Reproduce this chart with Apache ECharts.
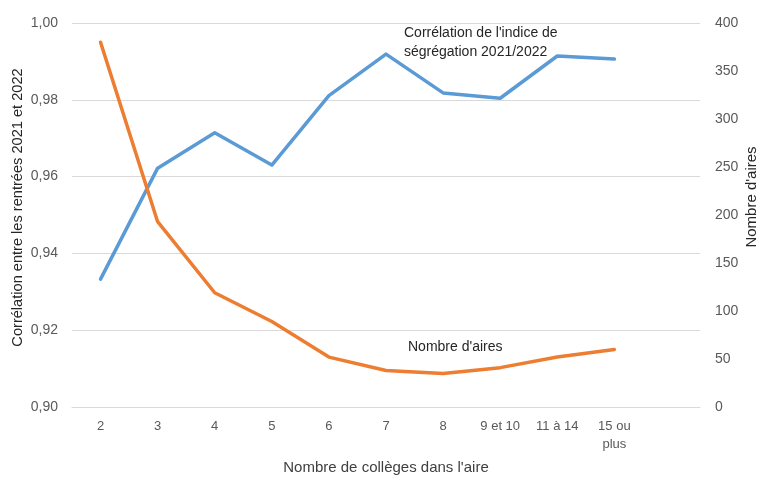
<!DOCTYPE html>
<html>
<head>
<meta charset="utf-8">
<script src="https://cdn.jsdelivr.net/npm/echarts@6/dist/echarts.min.js"></script>
<style>
  html, body { margin: 0; padding: 0; background: #ffffff; }
  #chart { width: 761px; height: 477px; }
</style>
</head>
<body>
<div id="chart"></div>
<script>
// Nombre de collèges dans l'aire (la dernière catégorie est vide)
const categories = ['2', '3', '4', '5', '6', '7', '8', '9 et 10', '11 à 14', '15 ou\nplus', ''];

// Corrélation de l'indice de ségrégation 2021/2022 (axe de gauche)
const correlation = [0.9333, 0.9622, 0.9714, 0.9630, 0.9811, 0.9919, 0.9818, 0.9804, 0.9914, 0.9906];

// Nombre d'aires (axe de droite)
const nbAires = [380, 193, 119, 89, 52, 38, 35, 41, 52, 60];

const leftTicks = { min: 0.9, max: 1.0, interval: 0.02 };
const rightTicks = { min: 0, max: 400, interval: 50 };

const FONT = '"Liberation Sans", "DejaVu Sans", sans-serif';
const TEXT = '#595959';
const DARK = '#262626';

const chart = echarts.init(document.getElementById('chart'), null, { renderer: 'canvas' });

chart.setOption({
  animation: false,
  backgroundColor: '#ffffff',
  textStyle: { fontFamily: FONT },
  grid: { left: 72, right: 61, top: 23, bottom: 70, containLabel: false, outerBoundsMode: 'none' },
  xAxis: {
    type: 'category',
    data: categories,
    boundaryGap: true,
    axisLine: { show: true, lineStyle: { color: '#D9D9D9', width: 1 } },
    axisTick: { show: false },
    axisLabel: {
      color: TEXT, fontSize: 13, fontFamily: FONT, margin: 10, lineHeight: 18, interval: 0
    },
    name: "Nombre de collèges dans l'aire",
    nameLocation: 'middle',
    nameGap: 53,
    nameTextStyle: { color: '#404040', fontSize: 15, fontFamily: FONT }
  },
  yAxis: [
    {
      type: 'value',
      position: 'left',
      min: leftTicks.min, max: leftTicks.max, interval: leftTicks.interval,
      axisLine: { show: false },
      axisTick: { show: false },
      splitLine: { show: true, lineStyle: { color: '#D9D9D9', width: 1 } },
      axisLabel: {
        color: TEXT, fontSize: 14, fontFamily: FONT, margin: 14,
        formatter: v => v.toFixed(2).replace('.', ',')
      },
      name: 'Corrélation entre les rentrées 2021 et 2022',
      nameLocation: 'middle',
      nameGap: 47,
      nameMoveOverlap: false,
      nameRotate: 90,
      nameTextStyle: { color: DARK, fontSize: 14.6, fontFamily: FONT, padding: [0, 0, 0, 15] }
    },
    {
      type: 'value',
      position: 'right',
      min: rightTicks.min, max: rightTicks.max, interval: rightTicks.interval,
      axisLine: { show: false },
      axisTick: { show: false },
      splitLine: { show: false },
      axisLabel: { color: TEXT, fontSize: 14, fontFamily: FONT, margin: 15 },
      name: "Nombre d'aires",
      nameLocation: 'middle',
      nameGap: 44,
      nameMoveOverlap: false,
      nameRotate: 90,
      nameTextStyle: { color: DARK, fontSize: 15, fontFamily: FONT, padding: [0, 0, 0, 36] }
    }
  ],
  series: [
    {
      name: "Corrélation de l'indice de ségrégation 2021/2022",
      type: 'line',
      yAxisIndex: 0,
      data: correlation,
      symbol: 'none',
      lineStyle: { color: '#5B9BD5', width: 3.5, cap: 'round', join: 'round' },
      itemStyle: { color: '#5B9BD5' },
      z: 3
    },
    {
      name: "Nombre d'aires",
      type: 'line',
      yAxisIndex: 1,
      data: nbAires,
      symbol: 'none',
      lineStyle: { color: '#ED7D31', width: 3.5, cap: 'round', join: 'round' },
      itemStyle: { color: '#ED7D31' },
      z: 4
    }
  ],
  graphic: [
    {
      type: 'text',
      left: 404, top: 24,
      style: {
        text: "Corrélation de l'indice de\nségrégation 2021/2022",
        fill: DARK, font: '14px ' + FONT, lineHeight: 19
      }
    },
    {
      type: 'text',
      left: 408, top: 340,
      style: {
        text: "Nombre d'aires",
        fill: DARK, font: '14px ' + FONT
      }
    }
  ]
});
</script>
</body>
</html>
